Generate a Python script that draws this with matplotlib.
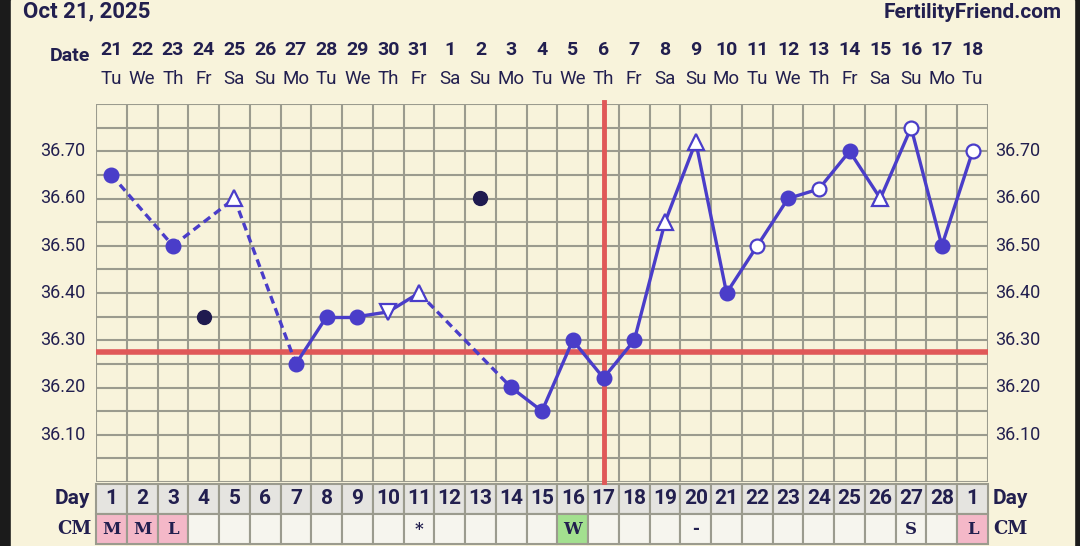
import numpy as np
import matplotlib.pyplot as plt
from matplotlib.patches import Rectangle
from matplotlib.transforms import blended_transform_factory

# chart data
dates = ["21", "22", "23", "24", "25", "26", "27", "28", "29", "30", "31",
         "1", "2", "3", "4", "5", "6", "7", "8", "9", "10", "11", "12", "13",
         "14", "15", "16", "17", "18"]
weekdays = ["Tu", "We", "Th", "Fr", "Sa", "Su", "Mo", "Tu", "We", "Th", "Fr",
            "Sa", "Su", "Mo", "Tu", "We", "Th", "Fr", "Sa", "Su", "Mo", "Tu",
            "We", "Th", "Fr", "Sa", "Su", "Mo", "Tu"]
cycle_days = [str(d) for d in range(1, 29)] + ["1"]
temps = [36.65, None, 36.50, None, 36.60, None, 36.25, 36.35, 36.35, 36.36,
         36.40, None, None, 36.20, 36.15, 36.30, 36.22, 36.30, 36.55, 36.72,
         36.40, 36.50, 36.60, 36.62, 36.70, 36.60, 36.75, 36.50, 36.70]
# f = filled circle, o = open circle, t = open triangle up, v = open triangle down
marks = ["f", "", "f", "", "t", "", "f", "f", "f", "v",
         "t", "", "", "f", "f", "f", "f", "f", "t", "t",
         "f", "o", "f", "o", "f", "t", "o", "f", "o"]
discarded_days = [4, 13]
discarded_temps = [36.35, 36.60]
cm = ["M", "M", "L", "", "", "", "", "", "", "", "*", "", "", "", "", "W",
      "", "", "", "-", "", "", "", "", "", "", "S", "", "L"]
cm_colors = {"M": "#F4B8C8", "L": "#F4B8C8", "W": "#A3E08F"}
coverline = 36.275
ovulation_day = 17

W, H = 1080, 546
cream = "#F8F3DB"
navy = "#221F4F"
blue = "#4A3DC9"
red = "#E05858"
gridc = "#9B9B8E"

fig = plt.figure(figsize=(W / 100, H / 100), dpi=100, facecolor="#1B1B1B")
fig.patches.append(Rectangle((11 / W, 0), (1074 - 11) / W, 1,
                             transform=fig.transFigure, color=cream, zorder=-10))

def fy(y):
    return 1 - y / H

ax = fig.add_axes([96 / W, fy(482), (988 - 96) / W, (482 - 104) / H])
ax.set_facecolor(cream)
n = len(dates)
x = np.arange(1, n + 1)
ax.set_xlim(0.5, n + 0.5)
ax.set_ylim(36.0, 36.8)
for xv in np.arange(0.5, n + 1):
    ax.axvline(xv, color=gridc, lw=1.5, zorder=1)
for yv in np.arange(36.0, 36.81, 0.05):
    ax.axhline(yv, color=gridc, lw=1.5, zorder=1)
for s in ax.spines.values():
    s.set_visible(False)
ax.set_xticks([])
ax.set_yticks([])

# coverline and ovulation line
ax.axhline(coverline, color=red, lw=4, zorder=2)
ax.plot([ovulation_day, ovulation_day], [36.0, 36.805], color=red, lw=3.5,
        zorder=2, clip_on=False)

# temperature line: dashed across gaps, solid between consecutive days
pts = [(i + 1, t) for i, t in enumerate(temps) if t is not None]
for (x0, y0), (x1, y1) in zip(pts[:-1], pts[1:]):
    ls = "-" if x1 - x0 == 1 else (0, (2.4, 1.5))
    ax.plot([x0, x1], [y0, y1], color=blue, lw=2.4, ls=ls, zorder=3)

for i, (t, m) in enumerate(zip(temps, marks)):
    if t is None:
        continue
    if m == "f":
        ax.plot(i + 1, t, "o", ms=10.5, color=blue, zorder=4)
    elif m == "o":
        ax.plot(i + 1, t, "o", ms=10, mfc="white", mec=blue, mew=1.6, zorder=4)
    elif m == "t":
        ax.plot(i + 1, t, "^", ms=11, mfc="white", mec=blue, mew=1.6, zorder=4)
    elif m == "v":
        ax.plot(i + 1, t, "v", ms=11, mfc="white", mec=blue, mew=1.6, zorder=4)
ax.plot(discarded_days, discarded_temps, "o", ms=10, color="#1F1A4F", zorder=4)

# y labels both sides
for v in np.arange(36.1, 36.71, 0.1):
    ax.text(-0.012, v, f"{v:.2f}", transform=ax.get_yaxis_transform(),
            ha="right", va="center", fontsize=13, color=navy, family="Roboto")
    ax.text(1.008, v, f"{v:.2f}", transform=ax.get_yaxis_transform(),
            ha="left", va="center", fontsize=13, color=navy, family="Roboto")

# header
fig.text(23 / W, fy(11), "Oct 21, 2025", fontsize=16, fontweight="bold",
         color=navy, family="Roboto", ha="left", va="center")
fig.text(1062 / W, fy(12), "FertilityFriend.com", fontsize=15, fontweight="bold",
         color=navy, family="Roboto", ha="right", va="center")
fig.text(90 / W, fy(56), "Date", fontsize=14, fontweight="bold",
         color=navy, family="Roboto", ha="right", va="center")

bt = blended_transform_factory(ax.transData, fig.transFigure)
for i in range(n):
    ax.text(i + 1, fy(50), dates[i], transform=bt, ha="center", va="center",
            fontsize=14, fontweight="bold", color=navy, family="Roboto")
    ax.text(i + 1, fy(79), weekdays[i], transform=bt, ha="center", va="center",
            fontsize=13.5, color=navy, family="Roboto")

# day and CM rows
day_top, day_bot, cm_bot = 484, 514, 544
for i in range(n):
    ax.add_patch(Rectangle((i + 0.5, fy(day_bot)), 1, (day_bot - day_top) / H,
                           transform=bt, facecolor="#E5E4E0", edgecolor=gridc,
                           lw=1.5, clip_on=False))
    ax.add_patch(Rectangle((i + 0.5, fy(cm_bot)), 1, (cm_bot - day_bot) / H,
                           transform=bt, facecolor=cm_colors.get(cm[i], "#F6F5EE"),
                           edgecolor=gridc, lw=1.5, clip_on=False))
    ax.text(i + 1, fy((day_top + day_bot) / 2), cycle_days[i], transform=bt,
            ha="center", va="center", fontsize=15, fontweight="bold",
            color=navy, family="Roboto")
    if cm[i]:
        ax.text(i + 1, fy((day_bot + cm_bot) / 2), cm[i], transform=bt,
                ha="center", va="center", fontsize=12, fontweight="bold",
                color=navy, family="DejaVu Serif")

fig.text(90 / W, fy(498), "Day", fontsize=15, fontweight="bold", color=navy,
         family="Roboto", ha="right", va="center")
fig.text(993 / W, fy(498), "Day", fontsize=15, fontweight="bold", color=navy,
         family="Roboto", ha="left", va="center")
fig.text(92 / W, fy(529), "CM", fontsize=13, fontweight="bold", color=navy,
         family="DejaVu Serif", ha="right", va="center")
fig.text(993 / W, fy(529), "CM", fontsize=13, fontweight="bold", color=navy,
         family="DejaVu Serif", ha="left", va="center")

fig.savefig("out.png", dpi=100, facecolor=fig.get_facecolor())
